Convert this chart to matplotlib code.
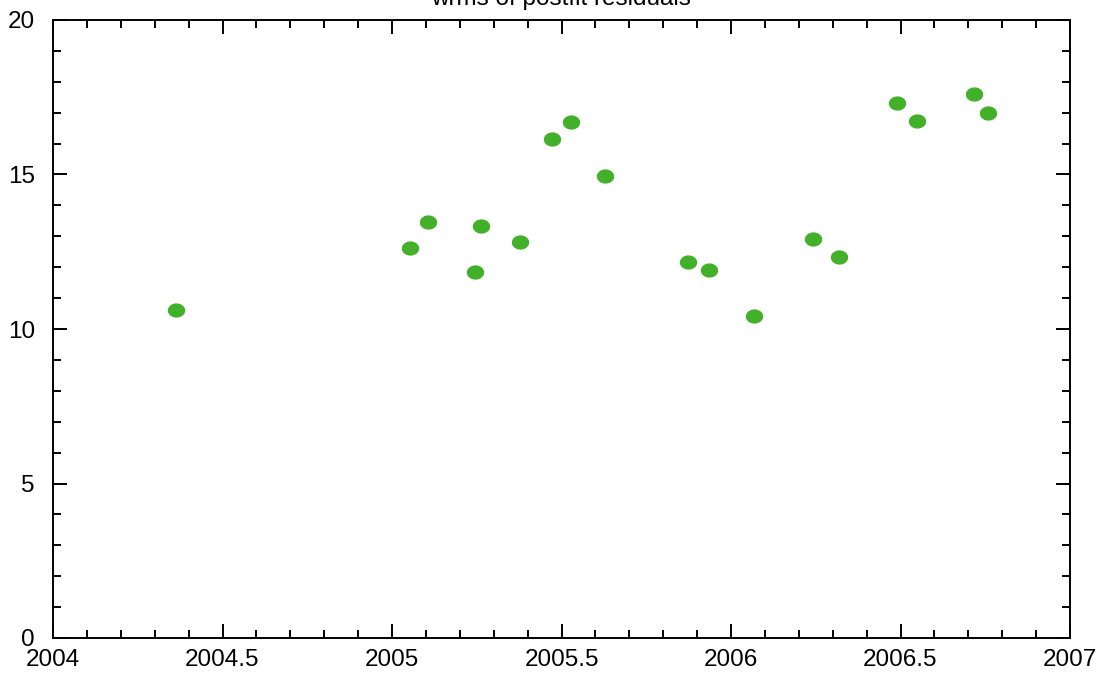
import numpy as np
import matplotlib
matplotlib.use("Agg")
import matplotlib.pyplot as plt
from matplotlib.path import Path
from matplotlib.ticker import MultipleLocator

# epoch (decimal year) and wrms of postfit residuals
epochs = [2004.363, 2005.053, 2005.106, 2005.245, 2005.263, 2005.378,
          2005.472, 2005.528, 2005.628, 2005.873, 2005.935, 2006.068,
          2006.242, 2006.319, 2006.490, 2006.549, 2006.717, 2006.758]
wrms = [10.61, 12.62, 13.46, 11.84, 13.33, 12.82,
        16.15, 16.70, 14.95, 12.17, 11.91, 10.42,
        12.91, 12.33, 17.31, 16.73, 17.61, 16.99]

title = "wrms of postfit residuals"
point_color = "#43b02a"

plt.rcParams["font.family"] = ["Liberation Sans", "DejaVu Sans"]

fig = plt.figure(figsize=(11.04, 6.77), dpi=100)
ax = fig.add_axes([53 / 1104, 39 / 677, 1017 / 1104, 618 / 677])

# flattened ellipse marker
t = np.linspace(0, 2 * np.pi, 60)
ellipse = Path(np.column_stack([np.cos(t), 0.82 * np.sin(t)]), closed=True)

ax.plot(epochs, wrms, linestyle="none", marker=ellipse, markersize=12.5,
        color=point_color, markeredgewidth=0)

ax.set_xlim(2004, 2007)
ax.set_ylim(0, 20)
ax.set_xticks(np.arange(2004, 2007.01, 0.5))
ax.set_xticklabels(["2004", "2004.5", "2005", "2005.5", "2006", "2006.5", "2007"])
ax.xaxis.set_minor_locator(MultipleLocator(0.1))
ax.yaxis.set_major_locator(MultipleLocator(5))
ax.yaxis.set_minor_locator(MultipleLocator(1))

ax.tick_params(which="both", direction="in", top=True, right=True,
               width=1.4, labelsize=17.5, color="black")
ax.tick_params(which="major", length=10)
ax.tick_params(which="minor", length=6)
ax.tick_params(axis="x", pad=8)
ax.tick_params(axis="y", pad=13)
for s in ax.spines.values():
    s.set_linewidth(1.4)

fig.text(0.508, 1 - 5 / 677, title, ha="center", va="baseline", fontsize=17.5)

fig.savefig("out.png", dpi=100)
